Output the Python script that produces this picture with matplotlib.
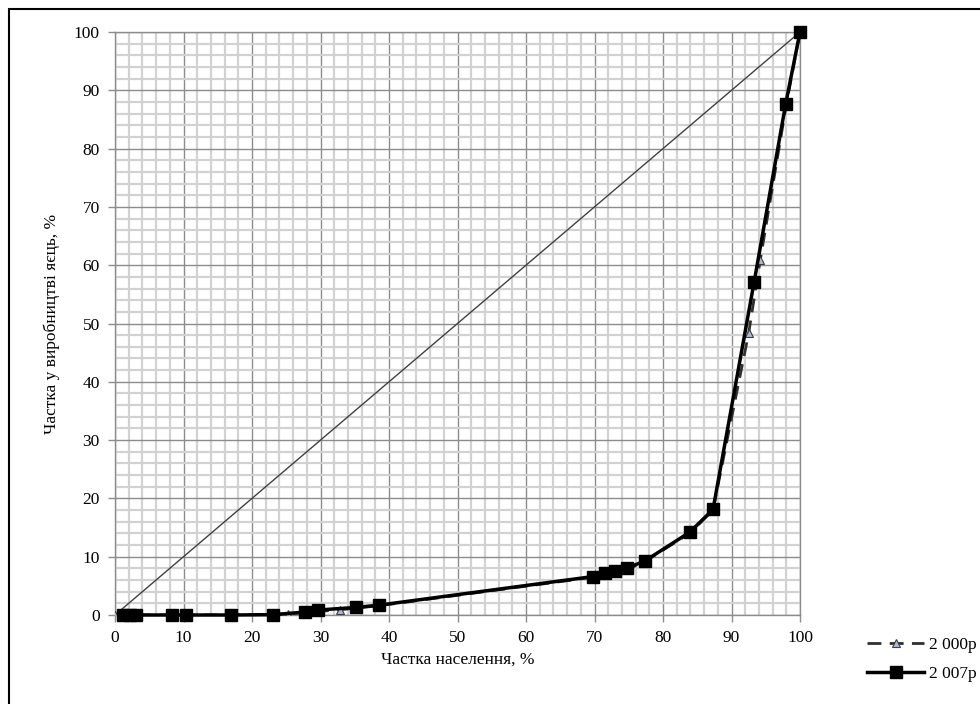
import matplotlib
matplotlib.use('Agg')
import matplotlib.pyplot as plt
from matplotlib.ticker import MultipleLocator
from matplotlib.patches import Rectangle

# Lorenz curve data (share of population, share of production), %
x_2000 = [0, 2, 10, 17, 25.2, 32.9, 38.6, 70, 75, 77.4, 84, 87.3, 92.5, 94.2, 98, 100]
y_2000 = [0, 0, 0, 0, 0.2, 0.9, 1.6, 6.5, 7.9, 9.2, 14.1, 18, 48.3, 60.9, 87.5, 100]

x_2007 = [1.2, 2.2, 3.0, 8.3, 10.4, 16.9, 23.1, 27.7, 29.6, 35.2, 38.6,
          69.8, 71.5, 73.0, 74.7, 77.4, 83.9, 87.3, 93.3, 97.9, 100]
y_2007 = [0, 0, 0, 0, 0, 0, 0.05, 0.5, 0.85, 1.3, 1.7,
          6.6, 7.15, 7.6, 8.0, 9.3, 14.2, 18.1, 57.1, 87.6, 100]

equality = [0, 100]

label_2000 = "2 000р"
label_2007 = "2 007р"
xlabel = "Частка населення, %"
ylabel = "Частка у виробництві яєць, %"

plt.rcParams['font.family'] = ['Liberation Serif', 'DejaVu Serif']
plt.rcParams['font.size'] = 12.5

fig = plt.figure(figsize=(9.8, 7.04), dpi=100)
ax = fig.add_axes([115/980., 1-615/704., 685/980., 583/704.])

# frame around the whole chart (cut by the image edge on right/bottom)
fig.patches.append(Rectangle((9/980., -0.05), 1.2, 1.05 - 9/704., transform=fig.transFigure,
                             fill=False, edgecolor='black', linewidth=1.5))

ax.xaxis.set_major_locator(MultipleLocator(10))
ax.yaxis.set_major_locator(MultipleLocator(10))
ax.xaxis.set_minor_locator(MultipleLocator(2))
ax.yaxis.set_minor_locator(MultipleLocator(2))
ax.grid(which='minor', color='#d2d2d2', linewidth=1.6, zorder=0)
ax.grid(which='major', color='#8c8c8c', linewidth=1.0, zorder=0)
ax.set_axisbelow(True)
ax.tick_params(which='major', direction='out', length=5, width=1, color='#8c8c8c', pad=6)
ax.tick_params(which='minor', length=0)
for s in ax.spines.values():
    s.set_color('#8c8c8c')
    s.set_linewidth(1.0)

ax.plot(equality, equality, '-', color='#404040', linewidth=1.0, zorder=2)
ax.plot(x_2000, y_2000, linestyle=(0, (5, 3)), color='#303030', linewidth=2,
        marker='^', markersize=6, markerfacecolor='#a9bad2', markeredgecolor='#404040',
        markeredgewidth=0.8, label=label_2000, zorder=3)
ax.plot(x_2007, y_2007, '-', color='black', linewidth=2.5, marker='s', markersize=8.5,
        label=label_2007, zorder=4, clip_on=False)

ax.set_xlim(0, 100)
ax.set_ylim(0, 100)
ax.set_xlabel(xlabel, labelpad=4)
ax.set_ylabel(ylabel, labelpad=10)

fig.legend(loc='upper left', bbox_to_anchor=(860/980., 1-630/704.), frameon=False,
           handlelength=3.3, handletextpad=0.25, labelspacing=0.75, borderaxespad=0)

plt.savefig('out.png', dpi=100)
